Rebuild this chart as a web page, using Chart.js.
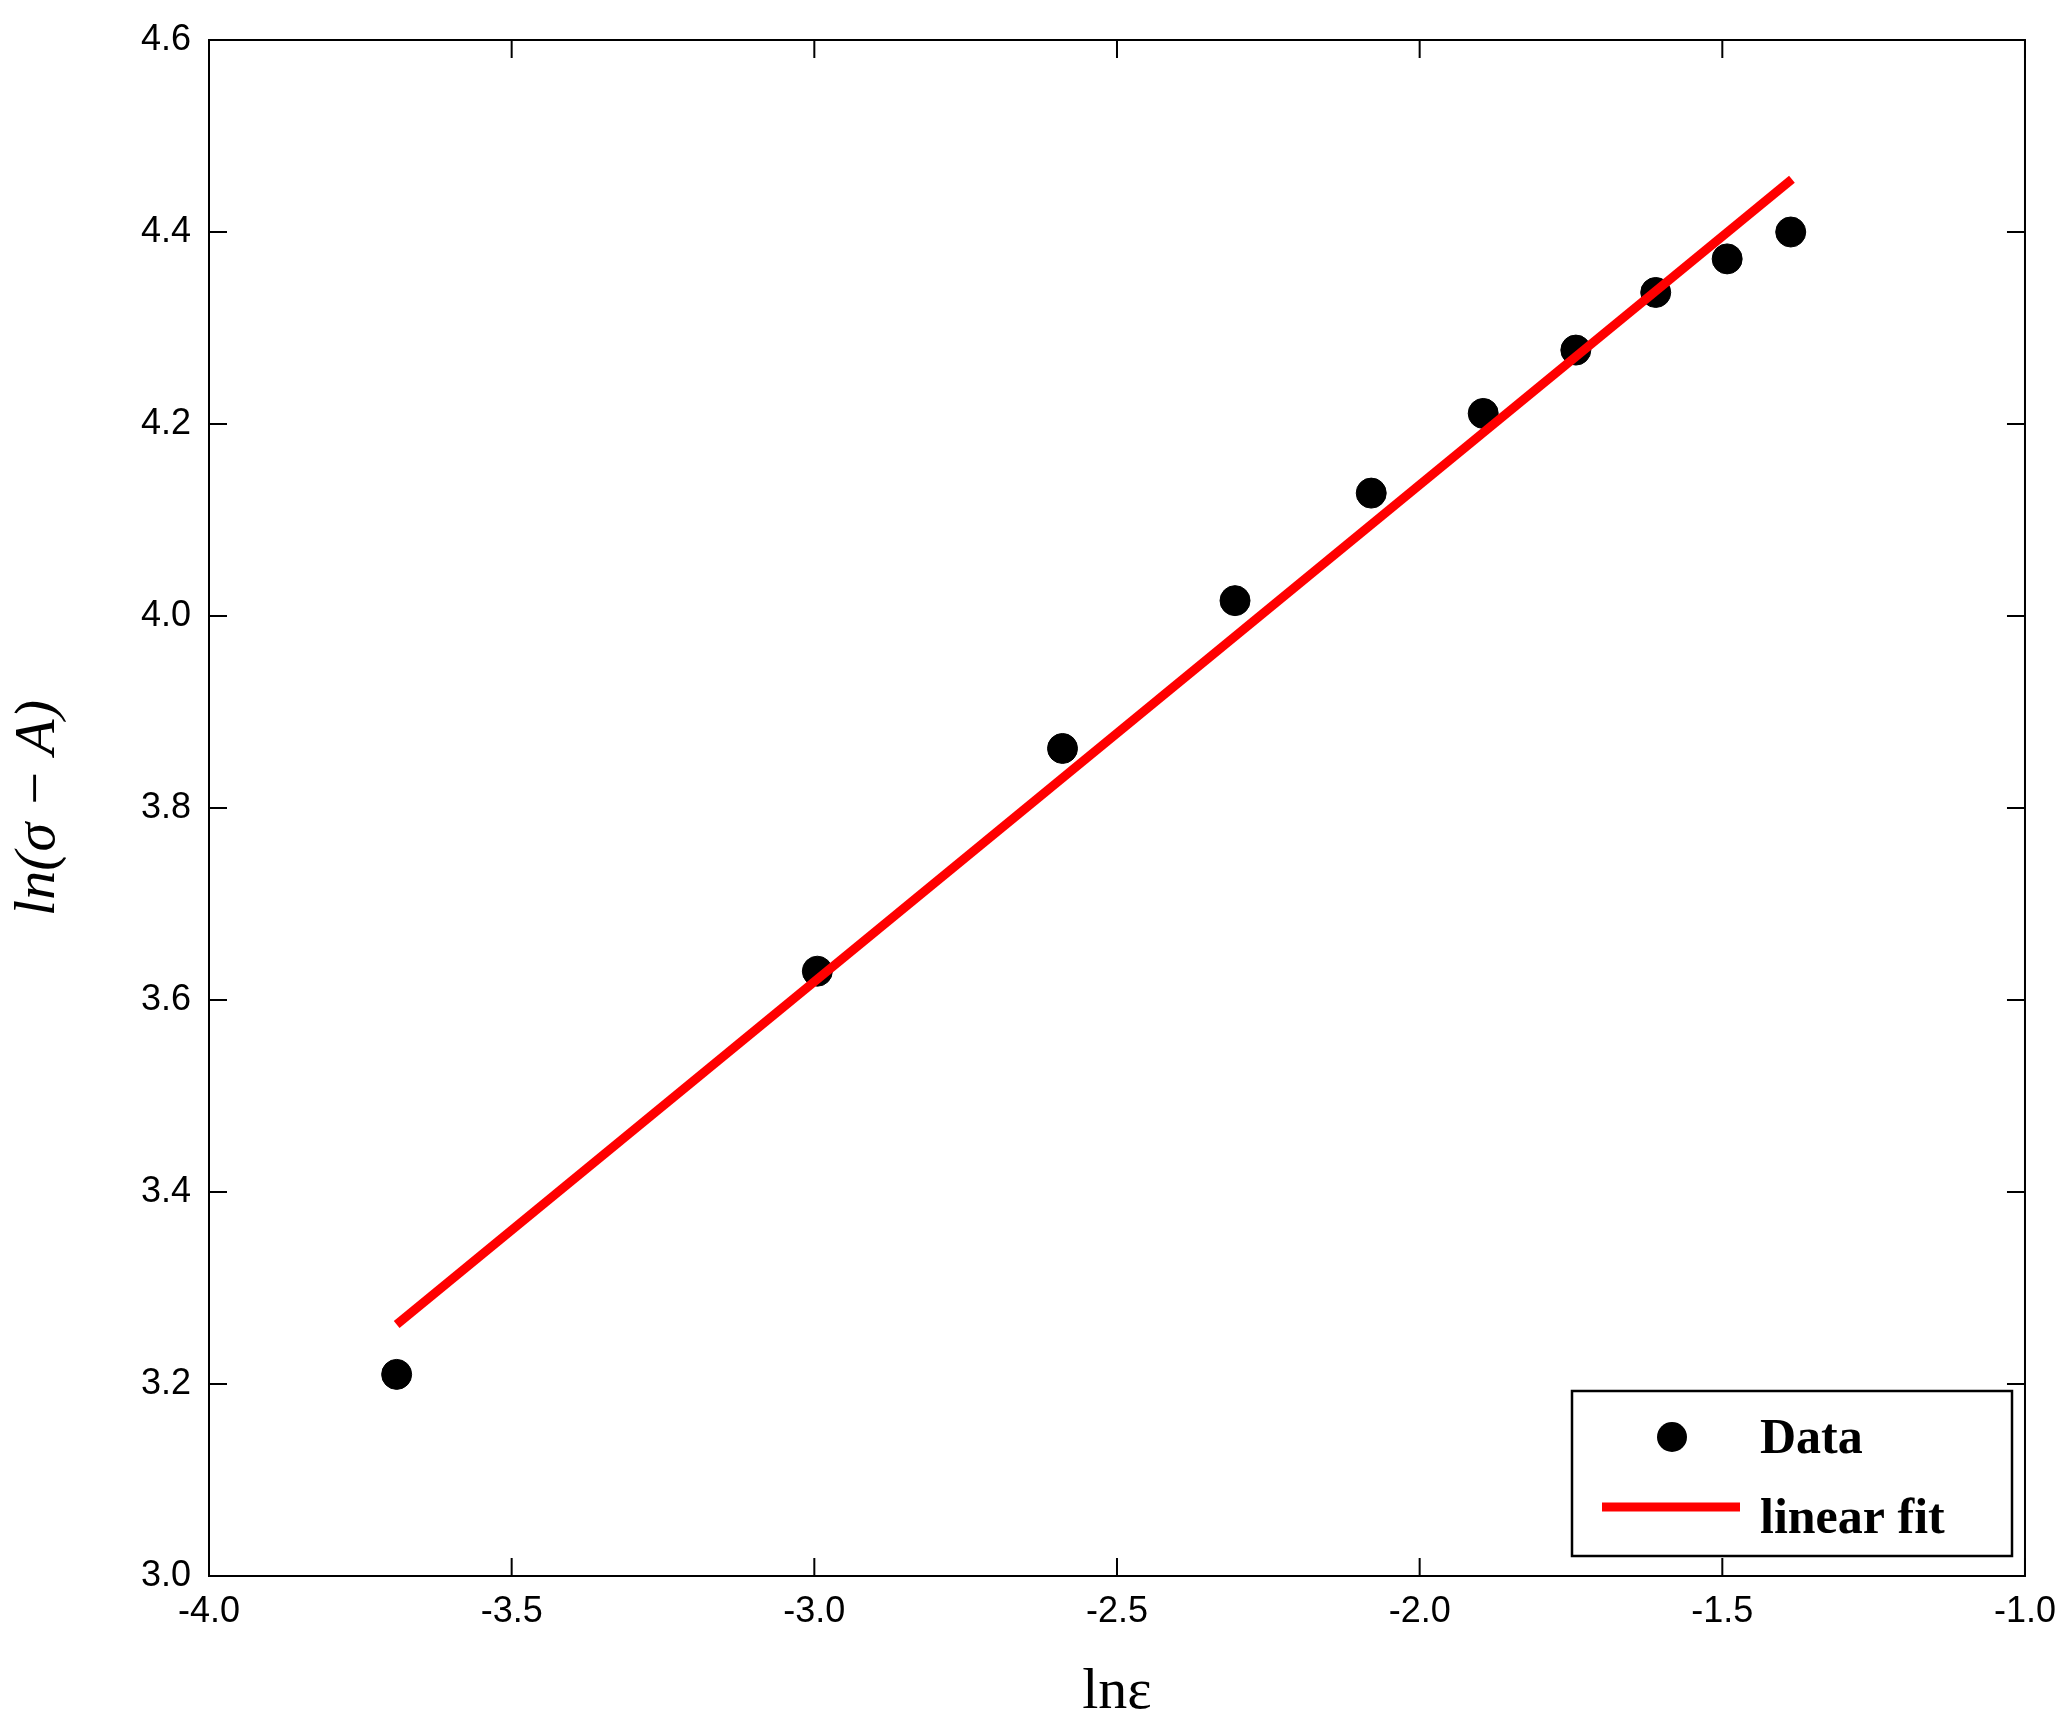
<!DOCTYPE html>
<html><head><meta charset="utf-8">
<script src="https://cdn.jsdelivr.net/npm/chart.js@4/dist/chart.umd.min.js"></script>
<style>body{margin:0;background:#fff}#c{display:block}</style>
</head><body>
<canvas id="c" width="2062" height="1732"></canvas>
<script>
// data
const dataX = [-3.69, -2.995, -2.59, -2.305, -2.08, -1.895, -1.742, -1.61, -1.492, -1.387];
const dataY = [3.21, 3.63, 3.862, 4.016, 4.128, 4.211, 4.277, 4.337, 4.372, 4.40];
const fitX = [-3.69, -1.385];
const fitY = [3.262, 4.455];
const xTicks = [-4, -3.5, -3, -2.5, -2, -1.5, -1];
const yTicks = [3, 3.2, 3.4, 3.6, 3.8, 4, 4.2, 4.4, 4.6];

// box + inward ticks + legend, matlab style
const framePlugin = {
  id: 'frame',
  afterDraw(chart) {
    const ctx = chart.ctx, a = chart.chartArea;
    const xs = chart.scales.x, ys = chart.scales.y;
    ctx.save();
    ctx.strokeStyle = '#000';
    ctx.lineWidth = 2;
    ctx.strokeRect(a.left, a.top, a.right - a.left, a.bottom - a.top);
    const L = 18;
    ctx.beginPath();
    xTicks.forEach(v => {
      const px = xs.getPixelForValue(v);
      ctx.moveTo(px, a.bottom); ctx.lineTo(px, a.bottom - L);
      ctx.moveTo(px, a.top); ctx.lineTo(px, a.top + L);
    });
    yTicks.forEach(v => {
      const py = ys.getPixelForValue(v);
      ctx.moveTo(a.left, py); ctx.lineTo(a.left + L, py);
      ctx.moveTo(a.right, py); ctx.lineTo(a.right - L, py);
    });
    ctx.stroke();
    // legend
    const bx = 1572, by = 1391, bw = 440, bh = 165;
    ctx.fillStyle = '#fff';
    ctx.fillRect(bx, by, bw, bh);
    ctx.lineWidth = 2.5;
    ctx.strokeRect(bx, by, bw, bh);
    ctx.fillStyle = '#000';
    ctx.beginPath(); ctx.arc(1672, 1437, 15, 0, Math.PI * 2); ctx.fill();
    ctx.strokeStyle = '#ff0000'; ctx.lineWidth = 9;
    ctx.beginPath(); ctx.moveTo(1602, 1507); ctx.lineTo(1740, 1507); ctx.stroke();
    ctx.fillStyle = '#000';
    ctx.font = 'bold 50px "Liberation Serif"';
    ctx.textBaseline = 'middle';
    ctx.fillText('Data', 1760, 1440);
    ctx.fillText('linear fit', 1760, 1520);
    ctx.restore();
  }
};

new Chart(document.getElementById('c'), {
  type: 'scatter',
  data: {
    datasets: [
      { label: 'linear fit', type: 'line', data: fitX.map((x, i) => ({x, y: fitY[i]})),
        borderColor: '#ff0000', borderWidth: 9, pointRadius: 0, fill: false },
      { label: 'Data', data: dataX.map((x, i) => ({x, y: dataY[i]})),
        backgroundColor: '#000', borderColor: '#000', pointRadius: 15 }
    ]
  },
  options: {
    responsive: false, animation: false, devicePixelRatio: 1,
    layout: { padding: { top: 40, right: 30, left: 0, bottom: 0 } },
    plugins: { legend: { display: false }, tooltip: { enabled: false } },
    scales: {
      x: {
        type: 'linear', min: -4, max: -1,
        afterBuildTicks: s => { s.ticks = xTicks.map(v => ({value: v})); },
        afterFit: s => { s.height = 156; },
        grid: { display: false }, border: { display: false },
        ticks: { color: '#000', font: { family: 'Liberation Sans', size: 36 }, padding: 6, maxRotation: 0 },
        title: { display: true, text: 'lnε', color: '#000', padding: { top: 8 },
          font: { family: 'Liberation Serif', size: 58 } }
      },
      y: {
        min: 3, max: 4.6,
        afterBuildTicks: s => { s.ticks = yTicks.map(v => ({value: v})); },
        afterFit: s => { s.width = 209; },
        grid: { display: false }, border: { display: false },
        ticks: { color: '#000', font: { family: 'Liberation Sans', size: 36 }, padding: 10 },
        title: { display: true, text: 'ln(σ − A)', color: '#000', padding: { bottom: 10 },
          font: { family: 'Liberation Serif', size: 58, style: 'italic' } }
      }
    }
  },
  plugins: [framePlugin]
});
</script>
</body></html>
